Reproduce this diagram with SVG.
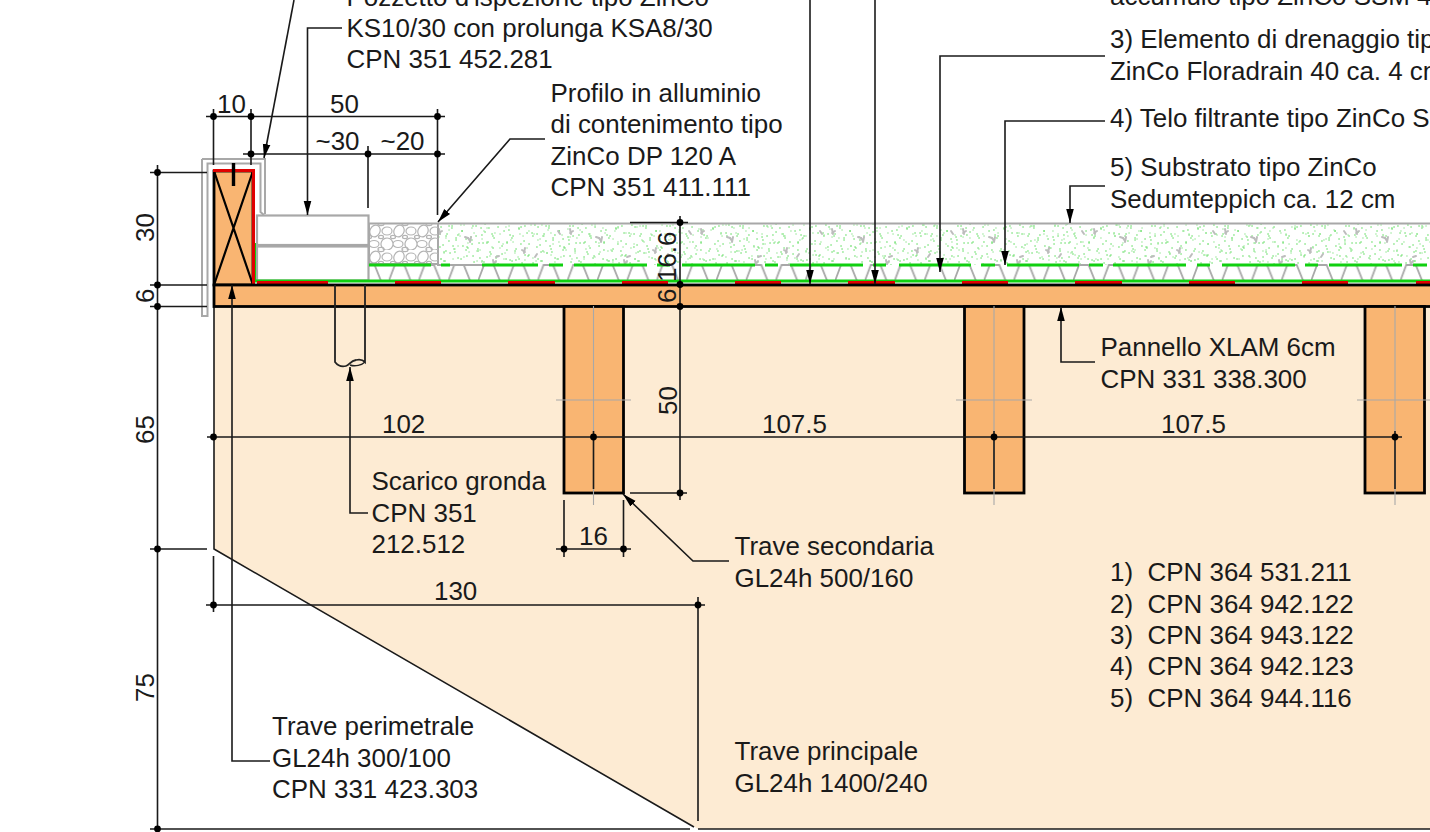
<svg xmlns="http://www.w3.org/2000/svg" width="1430" height="832" viewBox="0 0 1430 832">
<style>
text{font-family:"Liberation Sans",Arial,sans-serif;font-size:25.95px;fill:#1a1a1a}
.ln{fill:none;stroke:#1a1a1a;stroke-width:1.6}
.ar{fill:none;stroke:#1a1a1a;stroke-width:1.6;marker-end:url(#arrow)}
.dot{fill:#000}
.wood{fill:#f9b572;stroke:#000;stroke-width:2.8}
.gr{fill:none;stroke:#a8a8a8;stroke-width:2}
.c{fill:none;stroke:#b4b4b4;stroke-width:1.2}
.box{fill:#fff;stroke:#a8a8a8;stroke-width:2.2}
.green{stroke:#10d010;stroke-width:3;fill:none}
.red{stroke:#e00000;stroke-width:3;fill:none}
</style>
<defs>
<marker id="arrow" markerUnits="userSpaceOnUse" markerWidth="15" markerHeight="10" refX="14" refY="5" orient="auto"><path d="M0 1.200L14 5L0 8.800Z" fill="#000"/></marker>
<pattern id="zig" patternUnits="userSpaceOnUse" x="388.8" y="262" width="29.75" height="22">
<path d="M0 19L6 3H15.5L22 19H29.75" fill="none" stroke="#a8a8a8" stroke-width="1.8"/>
</pattern>
<pattern id="spA" patternUnits="userSpaceOnUse" x="438" y="223" width="97" height="42">
<path fill="none" stroke="#66dd66" stroke-width="1.5" stroke-linecap="round" d="M3 4h.1M9 11h.1M14 3h.1M18 17h.1M5 22h.1M24 8h.1M29 24h.1M12 30h.1M33 14h.1M38 3h.1M41 20h.1M23 36h.1M47 9h.1M52 29h.1M56 15h.1M60 4h.1M64 23h.1M68 36h.1M72 12h.1M77 28h.1M81 6h.1M86 18h.1M90 33h.1M94 10h.1M7 38h.1M35 33h.1M44 38h.1M16 26h.1M58 35h.1M69 19h.1M84 40h.1M28 16h.1M50 19h.1M74 38h.1"/>
</pattern>
<pattern id="spA2" href="#spA" patternTransform="translate(31 17)"/>
<pattern id="spA3" href="#spA" patternTransform="translate(61 9) scale(-1 1)"/>
<pattern id="spB" patternUnits="userSpaceOnUse" x="438" y="223" width="131" height="42">
<path fill="none" stroke="#8fe58f" stroke-width="1.3" stroke-linecap="round" d="M1 14h.1M6 30h.1M11 7h.1M15 36h.1M20 23h.1M26 2h.1M31 29h.1M36 10h.1M39 38h.1M44 16h.1M49 5h.1M54 24h.1M58 39h.1M62 11h.1M67 30h.1M71 3h.1M75 19h.1M80 34h.1M85 13h.1M89 25h.1M93 2h.1M98 38h.1M102 16h.1M106 29h.1M110 7h.1M115 21h.1M119 36h.1M124 12h.1M128 27h.1M22 13h.1M42 27h.1M65 21h.1M96 11h.1M113 32h.1"/>
<path fill="none" stroke="#bdbdbd" stroke-width="2" stroke-linecap="round" d="M30 15l2 3M33 14l-1 5M84 27l3 2M87 25l-1 5M120 8l2 3M58 34l3-1"/>
</pattern>
<pattern id="spB2" href="#spB" patternTransform="translate(47 23) scale(-1 1)"/>
<pattern id="gravel" patternUnits="userSpaceOnUse" x="369" y="224" width="24" height="26">
<g class="c"><ellipse cx="6" cy="7" rx="5" ry="6" transform="rotate(25 6 7)"/><ellipse cx="18" cy="7" rx="5" ry="4"/><ellipse cx="18" cy="20" rx="6" ry="6" transform="rotate(25 18 20)"/><ellipse cx="5" cy="20" rx="5" ry="3.500"/><ellipse cx="12" cy="13" rx="2.500" ry="1.600"/><ellipse cx="0" cy="13" rx="2.500" ry="1.600"/><ellipse cx="24" cy="13" rx="2.500" ry="1.600"/><ellipse cx="12" cy="25" rx="3" ry="1.600"/><ellipse cx="12" cy="0" rx="3" ry="1.600"/></g>
</pattern>
</defs>
<rect width="1430" height="832" fill="#fff"/>

<g id="trave-principale"><path d="M214 306V549L698 829H1430V306Z" fill="#fdebd3"/><path d="M214 306V549L694 827" class="ln"/><path d="M698 829H1430" class="ln"/></g>

<g id="substrato">
<rect x="438" y="224" width="992" height="41" fill="url(#spA)"/>
<rect x="438" y="224" width="992" height="41" fill="url(#spA2)"/>
<rect x="438" y="224" width="992" height="41" fill="url(#spA3)"/>
<rect x="438" y="224" width="992" height="41" fill="url(#spB)"/>
<rect x="438" y="224" width="992" height="41" fill="url(#spB2)"/>
<path class="gr" d="M368 223.500H1430M438 223.500V265H482"/>
</g>
<g id="ghiaia"><rect x="369" y="224" width="69" height="40" fill="url(#gravel)"/><path class="gr" d="M369 223.500V264H438"/></g>
<g id="pozzetto"><rect class="box" x="257" y="215.500" width="111.500" height="29.500"/><rect class="box" x="257" y="246.500" width="111.500" height="34"/></g>
<g id="drenaggio">
<rect x="369" y="264" width="1061" height="18" fill="url(#zig)"/>
<path class="green" d="M369 265H431M441 265H450M482 265H538M549 265H563M574 265H647M657 265H670M682 265H755M765 265H778M790 265H863M873 265H886M899 265H971M981 265H995M1007 265H1079M1089 265H1103M1113 265H1186M1197 265H1210M1222 265H1295M1305 265H1318M1329 265H1402M1413 265H1427"/>
<path class="green" d="M254.500 243V281H1430"/>
<path class="red" d="M257 282.500H328M395 282.500H441M508 282.500H555M622 282.500H668M735 282.500H781M848 282.500H895M962 282.500H1008M1075 282.500H1122M1189 282.500H1235M1302 282.500H1348M1416 282.500H1430"/>
</g>
<g id="scossalina"><path class="gr" d="M202 159V316H207.500V163.500H260.500V212L264 215"/><path class="gr" d="M202 159H265V214"/></g>

<g id="trave-perimetrale">
<rect class="wood" x="214" y="171" width="39" height="114"/>
<path d="M214 171L253 285M253 171L214 285" fill="none" stroke="#000" stroke-width="2.200"/>
<path class="red" d="M213 170.500H253.500V284"/>
<path d="M233.500 163V186" stroke="#000" stroke-width="3.400" fill="none"/>
</g>
<g id="pannello-xlam"><rect class="wood" x="214" y="285" width="1218" height="21.500"/></g>
<g id="scarico"><path d="M335 285V362C338 366 342 367 346 366C350 365 350 361 356 360C360 359 363 360 365 362V285" fill="none" stroke="#222" stroke-width="1.800"/><path d="M365 362C362 365 355 367 350 365" fill="none" stroke="#222" stroke-width="1.400"/></g>
<g id="travi-secondarie">
<rect class="wood" x="564" y="306.500" width="59.500" height="186.500"/>
<rect class="wood" x="964.500" y="306.500" width="59.500" height="186.500"/>
<rect class="wood" x="1365" y="306.500" width="59.500" height="186.500"/>
<path d="M593.500 306V505M556 400H631M994 306V505M956 400H1032M1395 306V505M1357 400H1430" stroke="#a8a8a8" stroke-width="1.100" fill="none"/>
</g>

<g id="connettori">
<path class="ln" d="M206 116.500H445M213.500 109V165M251 109V165M437.500 109V215M243 154H445M368 146V208"/>
<path class="ln" d="M157.500 165V832M150 172.500H207M150 285H207M150 306.500H207M150 549H207M150 829H690"/>
<path class="ln" d="M680 216V500M630 222.500H688M630 493H687"/>
<path class="ln" d="M207 437H1402M593.500 431V489M994 431V489M1395 431V489"/>
<path class="ln" d="M556 549H631M564 500V557M623.500 500V557"/>
<path class="ln" d="M206 605H705M213.500 556V612M698 597V821"/>
<path class="ar" d="M294 0L264 158"/>
<path class="ar" d="M342 28H307.500V215"/>
<path class="ar" d="M545 139H510L438 222"/>
<path class="ar" d="M810 0V284"/>
<path class="ar" d="M875 0V284"/>
<path class="ar" d="M1105 56H940V272"/>
<path class="ar" d="M1105 121H1005V265"/>
<path class="ar" d="M1105 186H1070V223"/>
<path class="ar" d="M1095 362H1061V307"/>
<path class="ar" d="M368 513H350V367"/>
<path class="ar" d="M729 561H693L623 494"/>
<path class="ar" d="M270 761H232V285"/>
<g class="dot">
<circle cx="213.500" cy="116.500" r="3.400"/><circle cx="251" cy="116.500" r="3.400"/><circle cx="437.500" cy="116.500" r="3.400"/>
<circle cx="251" cy="154" r="3.400"/><circle cx="368" cy="154" r="3.400"/><circle cx="437.500" cy="154" r="3.400"/>
<circle cx="157.500" cy="172.500" r="3.400"/><circle cx="157.500" cy="285" r="3.400"/><circle cx="157.500" cy="306.500" r="3.400"/><circle cx="157.500" cy="549" r="3.400"/><circle cx="157.500" cy="829" r="3.400"/>
<circle cx="680" cy="222.500" r="3.400"/><circle cx="680" cy="284.500" r="3.400"/><circle cx="680" cy="306.500" r="3.400"/><circle cx="680" cy="493" r="3.400"/>
<circle cx="593.500" cy="437" r="3.400"/><circle cx="994" cy="437" r="3.400"/><circle cx="1395" cy="437" r="3.400"/><circle cx="213.500" cy="437" r="3.400"/>
<circle cx="564" cy="549" r="3.400"/><circle cx="623.500" cy="549" r="3.400"/>
<circle cx="213.500" cy="605" r="3.400"/><circle cx="698" cy="605" r="3.400"/>
</g>
</g>

<g id="testi">
<text x="346.500" y="6">Pozzetto d'ispezione tipo ZinCo</text>
<text x="346.500" y="37">KS10/30 con prolunga KSA8/30</text>
<text x="346.500" y="68">CPN 351 452.281</text>
<text x="550.500" y="102">Profilo in alluminio</text>
<text x="550.500" y="133">di contenimento tipo</text>
<text x="550.500" y="164.500">ZinCo DP 120 A</text>
<text x="550.500" y="195.500">CPN 351 411.111</text>
<text x="1110" y="5">accumulo tipo ZinCo SSM 45</text>
<text x="1110" y="48">3) Elemento di drenaggio tipo</text>
<text x="1110" y="80">ZinCo Floradrain 40 ca. 4 cm</text>
<text x="1110" y="127">4) Telo filtrante tipo ZinCo SF</text>
<text x="1110" y="176">5) Substrato tipo ZinCo</text>
<text x="1110" y="208">Sedumteppich ca. 12 cm</text>
<text x="1100.500" y="356">Pannello XLAM 6cm</text>
<text x="1100.500" y="388">CPN 331 338.300</text>
<text x="371.500" y="490">Scarico gronda</text>
<text x="371.500" y="522">CPN 351</text>
<text x="371.500" y="553">212.512</text>
<text x="734.500" y="554.500">Trave secondaria</text>
<text x="734.500" y="586.500">GL24h 500/160</text>
<text x="272" y="735">Trave perimetrale</text>
<text x="272" y="767">GL24h 300/100</text>
<text x="272" y="798">CPN 331 423.303</text>
<text x="734.500" y="760">Trave principale</text>
<text x="734.500" y="792">GL24h 1400/240</text>
<text x="1110" y="581">1)</text><text x="1147.500" y="581">CPN 364 531.211</text>
<text x="1110" y="613">2)</text><text x="1147.500" y="613">CPN 364 942.122</text>
<text x="1110" y="644">3)</text><text x="1147.500" y="644">CPN 364 943.122</text>
<text x="1110" y="675">4)</text><text x="1147.500" y="675">CPN 364 942.123</text>
<text x="1110" y="707">5)</text><text x="1147.500" y="707">CPN 364 944.116</text>
<text x="217" y="113">10</text>
<text x="330" y="113">50</text>
<text x="315.500" y="150">~30</text>
<text x="380.500" y="150">~20</text>
<text x="382" y="433">102</text>
<text x="762" y="433">107.5</text>
<text x="1161" y="433">107.5</text>
<text x="579" y="545">16</text>
<text x="434" y="600">130</text>
<text transform="translate(153.500 242) rotate(-90)">30</text>
<text transform="translate(153.500 303) rotate(-90)">6</text>
<text transform="translate(153.500 444) rotate(-90)">65</text>
<text transform="translate(153.500 702) rotate(-90)">75</text>
<text transform="translate(675.500 282) rotate(-90)">16.6</text>
<text transform="translate(675.500 303) rotate(-90)">6</text>
<text transform="translate(676.500 415) rotate(-90)">50</text>
</g>
</svg>
